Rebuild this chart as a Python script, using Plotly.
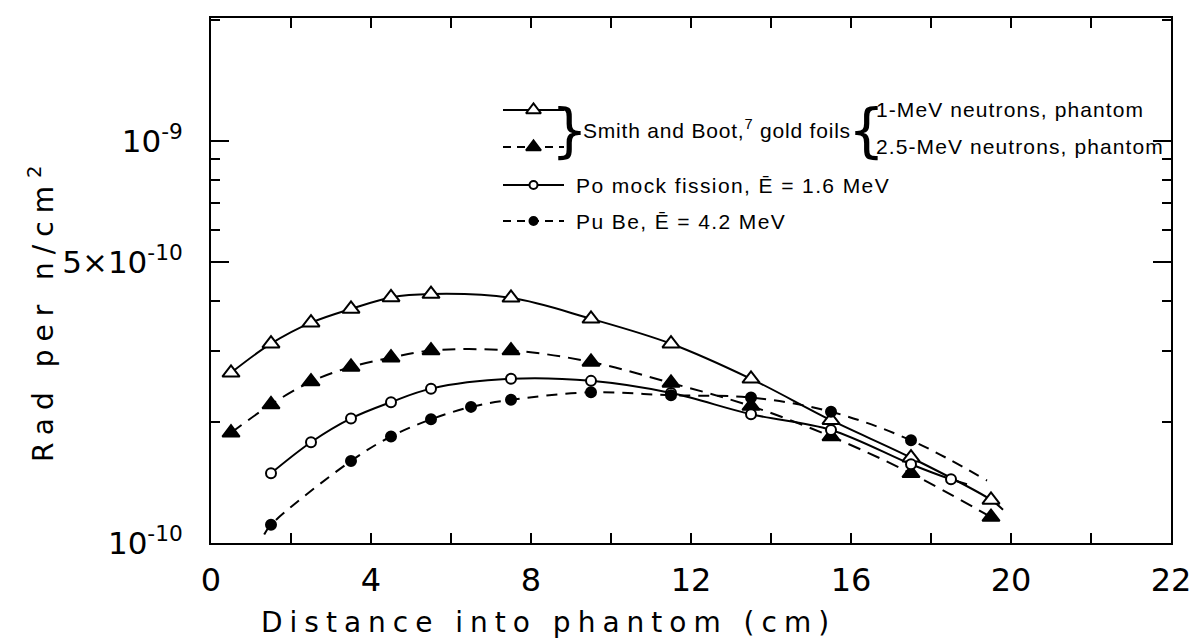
import plotly.graph_objects as go

# ---------------- data (values in units of 1e-10 rad per n/cm^2) ----------------
UNIT = 1e-10
x_gold = [0.5, 1.5, 2.5, 3.5, 4.5, 5.5, 7.5, 9.5, 11.5, 13.5, 15.5, 17.5, 19.5]
rad_1mev = [2.65, 3.13, 3.53, 3.82, 4.08, 4.16, 4.07, 3.61, 3.13, 2.56, 2.02, 1.63, 1.28]
rad_25mev = [1.88, 2.21, 2.52, 2.74, 2.89, 3.01, 3.01, 2.82, 2.50, 2.19, 1.84, 1.49, 1.16]
x_po = [1.5, 2.5, 3.5, 4.5, 5.5, 7.5, 9.5, 11.5, 13.5, 15.5, 17.5, 18.5]
rad_po = [1.49, 1.78, 2.04, 2.24, 2.42, 2.56, 2.53, 2.36, 2.09, 1.91, 1.57, 1.44]
x_pube = [1.5, 3.5, 4.5, 5.5, 6.5, 7.5, 9.5, 11.5, 13.5, 15.5, 17.5]
rad_pube = [1.11, 1.60, 1.84, 2.03, 2.18, 2.27, 2.37, 2.33, 2.30, 2.12, 1.80]

# hand-drawn fit curves run a little past the measured points
curve_1mev_x = x_gold + [19.8]
curve_1mev_y = rad_1mev + [1.21]
curve_25mev_x = x_gold
curve_25mev_y = rad_25mev
curve_po_x = x_po + [18.9]
curve_po_y = rad_po + [1.40]
curve_pube_x = [1.33] + x_pube + [19.4]
curve_pube_y = [1.05] + rad_pube + [1.43]

x_tickvals = [0, 4, 8, 12, 16, 20, 24]
x_ticktext = ["0", "4", "8", "12", "16", "20", "22"]
x_minor = [2, 6, 10, 14, 18, 22]
y_tickvals = [1e-10, 5e-10, 1e-9]
y_ticktext = ["10<sup>-10</sup>", "5×10<sup>-10</sup>", "10<sup>-9</sup>"]
y_minor = [2e-10, 3e-10, 4e-10, 6e-10, 7e-10, 8e-10, 9e-10, 2e-9]

series = [
    dict(name="1-MeV neutrons, phantom", cx=curve_1mev_x, cy=curve_1mev_y, x=x_gold, y=rad_1mev,
         dash="solid", symbol="triangle-up", fill="white", size=15),
    dict(name="2.5-MeV neutrons, phantom", cx=curve_25mev_x, cy=curve_25mev_y, x=x_gold, y=rad_25mev,
         dash="13px,8px", symbol="triangle-up", fill="black", size=15),
    dict(name="Po mock fission", cx=curve_po_x, cy=curve_po_y, x=x_po, y=rad_po,
         dash="solid", symbol="circle", fill="white", size=10),
    dict(name="Pu Be", cx=curve_pube_x, cy=curve_pube_y, x=x_pube, y=rad_pube,
         dash="11px,8px", symbol="circle", fill="black", size=10),
]

W, H = 1197, 642
L, R, T, B = 203, 34, 10, 107
PW, PH = W - L - R, H - T - B

def fx(px):
    return (px - L) / PW

def fy(py):
    return (H - B - py) / PH

fig = go.Figure()

for s in series:
    fig.add_trace(go.Scatter(
        x=s["cx"], y=[v * UNIT for v in s["cy"]], mode="lines",
        line=dict(color="black", width=2, dash=s["dash"], shape="spline", smoothing=1.0),
        showlegend=False, hoverinfo="skip"))
for s in series:
    fig.add_trace(go.Scatter(
        x=s["x"], y=[v * UNIT for v in s["y"]], mode="markers", name=s["name"],
        marker=dict(symbol=s["symbol"], size=s["size"], color=s["fill"],
                    line=dict(color="black", width=2)),
        showlegend=False))

# ---------------- custom legend (overlay axes in plot-fraction units) ----------------
rows_py = [102, 139, 177, 213]
sample_x0, sample_x1 = fx(495), fx(556)
for s, rp in zip(series, rows_py):
    yv = fy(rp)
    fig.add_trace(go.Scatter(
        x=[sample_x0, sample_x1], y=[yv, yv], mode="lines", xaxis="x2", yaxis="y2",
        line=dict(color="black", width=2, dash="solid" if s["dash"] == "solid" else "8px,6px"),
        showlegend=False, hoverinfo="skip"))
    fig.add_trace(go.Scatter(
        x=[(sample_x0 + sample_x1) / 2], y=[yv], mode="markers", xaxis="x2", yaxis="y2",
        marker=dict(symbol=s["symbol"], size=s["size"] - 2, color=s["fill"],
                    line=dict(color="black", width=2)),
        showlegend=False, hoverinfo="skip"))

FONT = "DejaVu Sans"
LEG = dict(family="Liberation Sans", size=21, color="black")

def spaced(t, px):
    return '<span style="letter-spacing:%spx">%s</span>' % (px, t)

ann = []
mid12 = (rows_py[0] + rows_py[1]) / 2
ann.append(dict(x=fx(561), y=fy(mid12 + 2), text="}", font=dict(family="DejaVu Sans", size=58, color="black")))
ann.append(dict(x=fx(573), y=fy(mid12), text=spaced("Smith and Boot,<sup>7</sup> gold foils", 0.8),
                xanchor="left", font=LEG))
ann.append(dict(x=fx(858), y=fy(mid12 + 2), text="{", font=dict(family="DejaVu Sans", size=58, color="black")))
ann.append(dict(x=fx(866), y=fy(rows_py[0]), text=spaced("1-MeV neutrons, phantom", 1.1), xanchor="left", font=LEG))
ann.append(dict(x=fx(866), y=fy(rows_py[1]), text=spaced("2.5-MeV neutrons, phantom", 1.1), xanchor="left", font=LEG))
ann.append(dict(x=fx(566), y=fy(rows_py[2]), text=spaced("Po mock fission, Ē = 1.6 MeV", 1.4), xanchor="left", font=LEG))
ann.append(dict(x=fx(566), y=fy(rows_py[3]), text=spaced("Pu Be, Ē = 4.2 MeV", 1.4), xanchor="left", font=LEG))
# axis titles
ann.append(dict(x=fx(540), y=fy(614), text=spaced("Distance into phantom (cm)", 7),
                font=dict(family=FONT, size=28, color="black")))
ann.append(dict(x=fx(34), y=fy(302), text=spaced("Rad per n/cm<sup>2</sup>", 8),
                textangle=-90, font=dict(family=FONT, size=28, color="black")))
for a in ann:
    a.setdefault("xanchor", "center")
    a.update(xref="paper", yref="paper", showarrow=False, yanchor="middle")

fig.update_layout(
    width=W, height=H, margin=dict(l=L, r=R, t=T, b=B, autoexpand=False),
    paper_bgcolor="white", plot_bgcolor="white",
    annotations=ann,
    xaxis=dict(range=[0, 24], tickvals=x_tickvals, ticktext=x_ticktext, automargin=False,
               ticks="inside", ticklen=10, tickwidth=2, tickcolor="black",
               showline=True, linewidth=2, linecolor="black", mirror="allticks",
               showgrid=False, zeroline=False, ticklabelstandoff=8, ticklabeloverflow="allow",
               tickfont=dict(family=FONT, size=32, color="black"),
               minor=dict(tickvals=x_minor, ticks="inside", ticklen=10, tickwidth=2, tickcolor="black")),
    yaxis=dict(type="log", range=[-10, -8.6946], tickvals=y_tickvals, ticktext=y_ticktext, automargin=False,
               ticks="inside", ticklen=18, tickwidth=2, tickcolor="black",
               showline=True, linewidth=2, linecolor="black", mirror="allticks",
               showgrid=False, zeroline=False, ticklabelstandoff=20, ticklabeloverflow="allow",
               tickfont=dict(family=FONT, size=31, color="black"),
               minor=dict(tickvals=y_minor, ticks="inside", ticklen=9, tickwidth=2, tickcolor="black")),
    xaxis2=dict(overlaying="x", anchor="y2", range=[0, 1], visible=False),
    yaxis2=dict(overlaying="y", anchor="x2", range=[0, 1], visible=False),
)

fig.write_html("out.html")
